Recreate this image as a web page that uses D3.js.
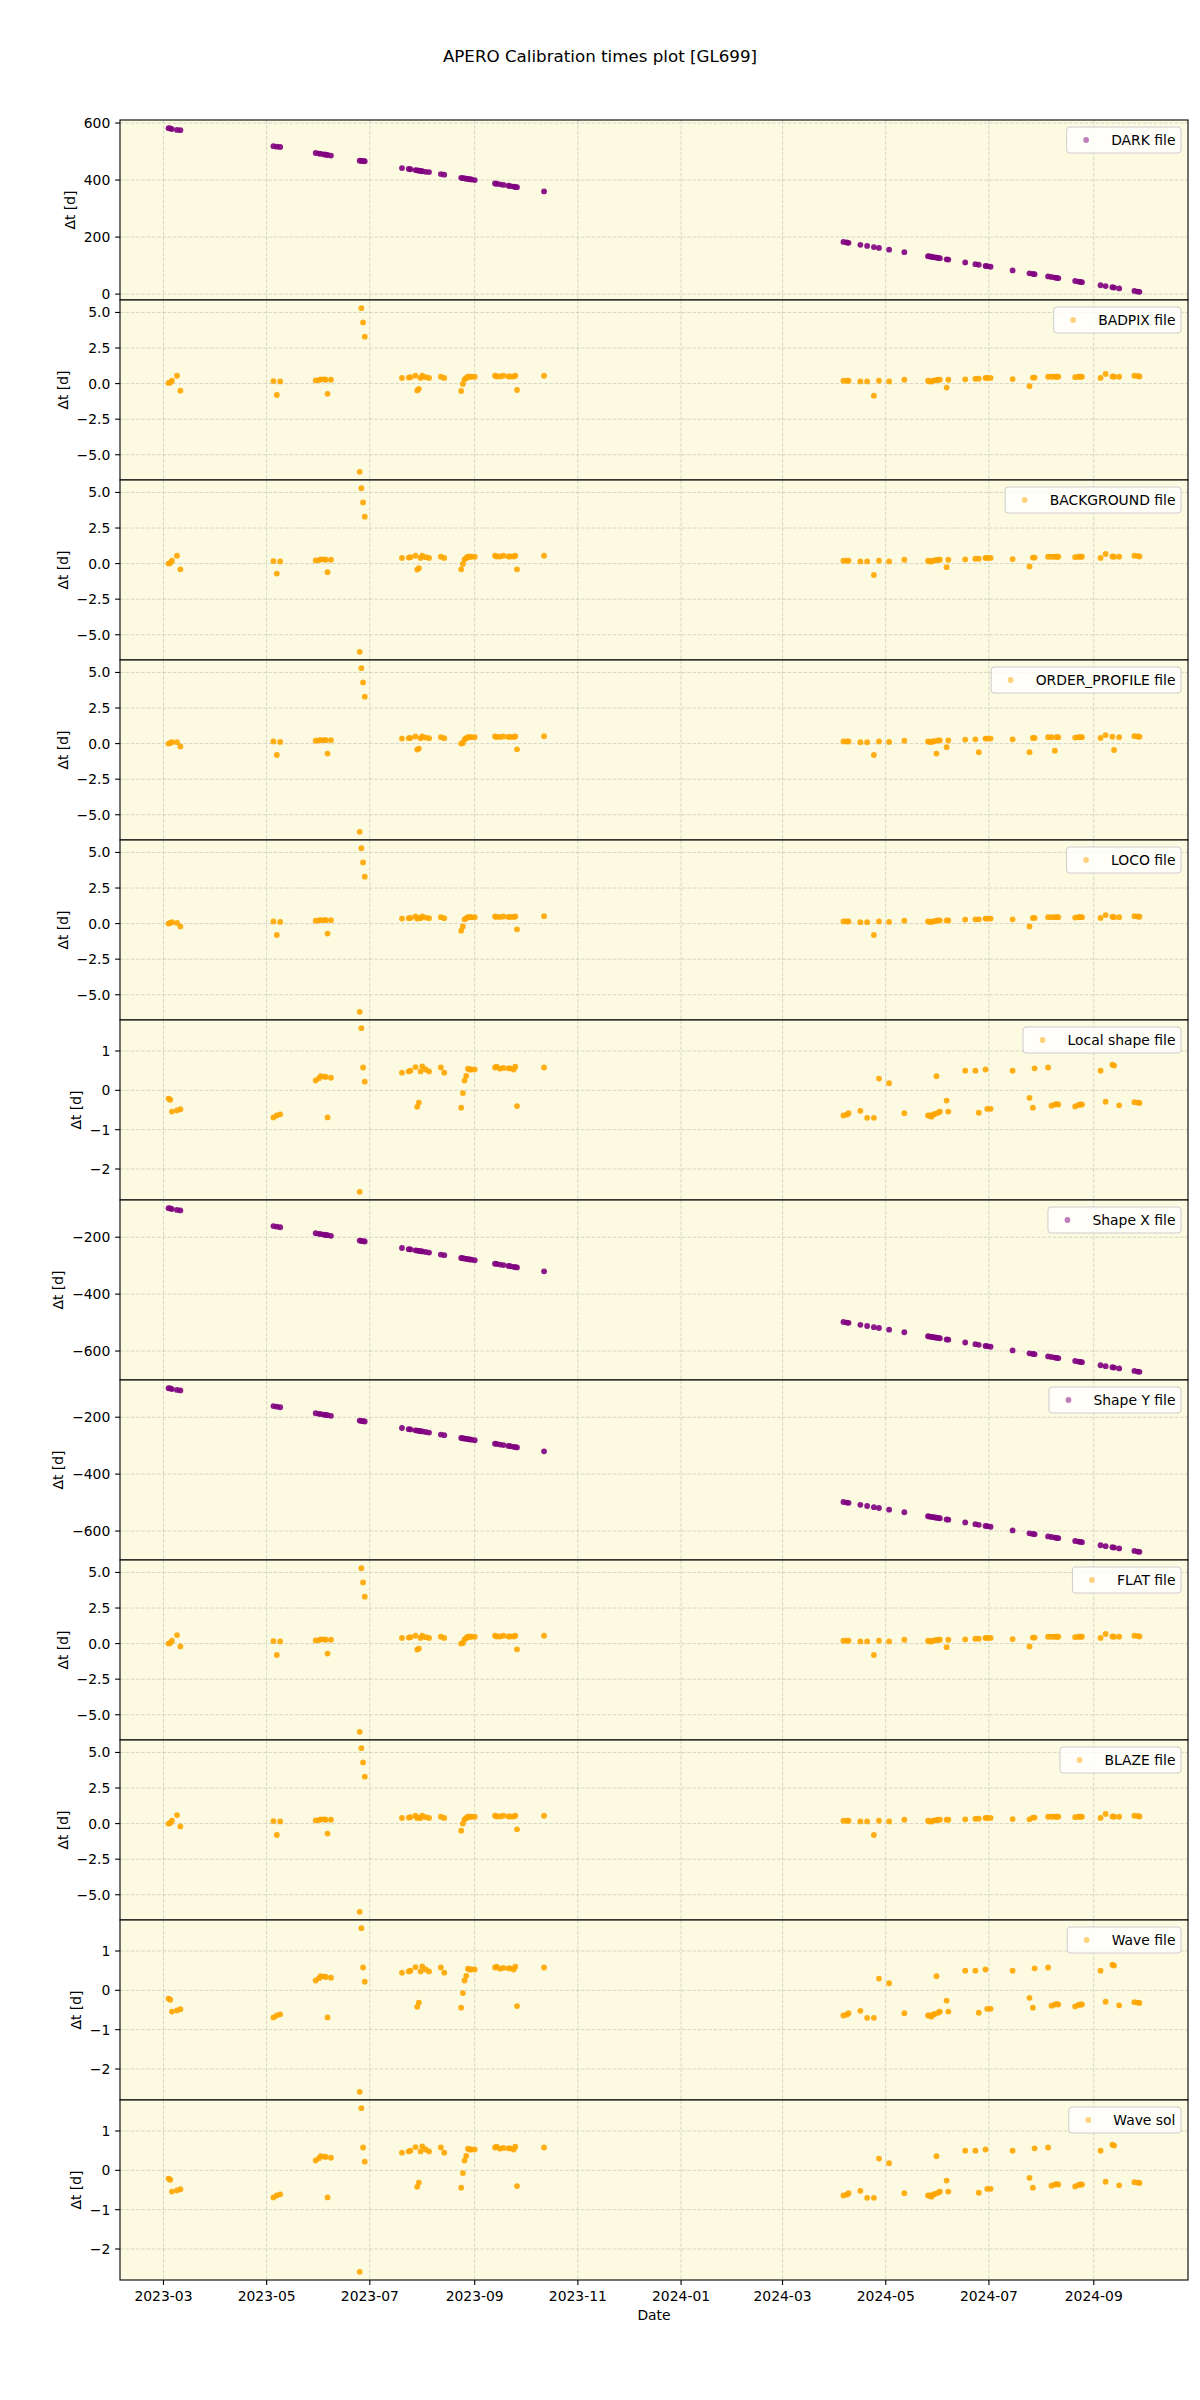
<!DOCTYPE html>
<html><head><meta charset="utf-8">
<script src="https://cdn.jsdelivr.net/npm/d3@7/dist/d3.min.js"></script>
<style>
body{margin:0;background:#fff}
svg text{font-family:"DejaVu Sans",sans-serif;fill:#000}
</style>
</head><body>
<svg id="chart" width="1200" height="2400"></svg>
<script>
// ---------------- DATA ----------------
const chartTitle = "APERO Calibration times plot [GL699]";
const xLabel = "Date";
const yLabel = "Δt [d]";

const obsDates = [
 "2023-03-04","2023-03-05","2023-03-06","2023-03-09","2023-03-11",
 "2023-05-05","2023-05-07","2023-05-09",
 "2023-05-30","2023-06-01","2023-06-02","2023-06-04","2023-06-05","2023-06-06","2023-06-08",
 "2023-06-25","2023-06-26","2023-06-27","2023-06-28",
 "2023-07-20","2023-07-24","2023-07-25","2023-07-28","2023-07-29","2023-07-30","2023-07-31","2023-08-01","2023-08-03","2023-08-05",
 "2023-08-12","2023-08-14",
 "2023-08-24","2023-08-25","2023-08-26","2023-08-27","2023-08-28","2023-08-29","2023-08-30","2023-09-01",
 "2023-09-13","2023-09-14","2023-09-16","2023-09-18","2023-09-21","2023-09-22","2023-09-24","2023-09-25","2023-09-26",
 "2023-10-12",
 "2024-04-06","2024-04-08","2024-04-09","2024-04-16","2024-04-20","2024-04-24","2024-04-27","2024-05-03","2024-05-12",
 "2024-05-26","2024-05-27","2024-05-28","2024-05-29","2024-05-30","2024-05-31","2024-06-01","2024-06-02","2024-06-06","2024-06-07",
 "2024-06-17","2024-06-23","2024-06-25","2024-06-29","2024-06-30","2024-07-02","2024-07-15",
 "2024-07-25","2024-07-27","2024-07-28","2024-08-05","2024-08-07","2024-08-09","2024-08-10","2024-08-11",
 "2024-08-21","2024-08-23","2024-08-24","2024-08-25","2024-09-05","2024-09-08","2024-09-12","2024-09-13","2024-09-16",
 "2024-09-25","2024-09-27","2024-09-28"
];

const darkValues = [
 582,581,579,576,575, 519,517,516, 495,493,492,490,489,488,486, 468,467,467,466,
 442,439,438,435,434,433,432,431,429,428, 421,419, 408,407,406,405,404,403,402,400,
 388,387,385,383,380,379,377,376,375, 360,
 183,181,180,173,169,165,162,156,147, 133,132,131,130,129,128,127,126,122,121,
 111,105,103,99,98,96,83, 73,71,70,62,60,58,57,56, 46,44,43,42,31,28,24,23,20, 11,9,8
];

const badpixValues = [
 0.05,0.08,0.2,0.55,-0.5, 0.18,-0.8,0.15, 0.22,0.25,0.3,0.3,0.27,-0.72,0.27, -6.2,5.3,4.3,3.3,
 0.4,0.42,0.45,0.55,-0.48,-0.37,0.4,0.55,0.45,0.4, 0.48,0.4, -0.52,-0.02,0.3,0.4,0.48,0.48,0.48,0.48,
 0.55,0.5,0.5,0.55,0.5,0.5,0.5,0.55,-0.45, 0.55,
 0.2,0.2,0.2,0.15,0.15,-0.85,0.2,0.15,0.27, 0.2,0.15,0.15,0.2,0.23,0.25,0.27,0.27,-0.28,0.27,
 0.3,0.34,0.34,0.4,0.4,0.4,0.32, -0.18,0.42,0.42,0.48,0.48,0.48,0.48,0.48, 0.45,0.48,0.48,0.48,0.4,0.68,0.5,0.48,0.48, 0.55,0.53,0.5
];

const backgroundValues = [
 0.0,0.05,0.2,0.55,-0.4, 0.18,-0.7,0.15, 0.22,0.25,0.3,0.3,0.27,-0.6,0.27, -6.2,5.3,4.3,3.3,
 0.4,0.42,0.45,0.55,-0.42,-0.32,0.4,0.55,0.45,0.4, 0.48,0.4, -0.4,-0.02,0.3,0.4,0.48,0.48,0.48,0.48,
 0.55,0.5,0.5,0.55,0.5,0.5,0.5,0.55,-0.4, 0.55,
 0.2,0.2,0.2,0.15,0.15,-0.8,0.2,0.15,0.27, 0.2,0.15,0.15,0.2,0.23,0.25,0.27,0.27,-0.25,0.27,
 0.3,0.34,0.34,0.4,0.4,0.4,0.32, -0.2,0.42,0.42,0.48,0.48,0.48,0.48,0.48, 0.45,0.48,0.48,0.48,0.4,0.68,0.5,0.48,0.48, 0.55,0.53,0.5
];

const orderProfileValues = [
 0.0,0.05,0.1,0.1,-0.2, 0.15,-0.8,0.12, 0.2,0.22,0.25,0.25,0.24,-0.7,0.24, -6.2,5.3,4.3,3.3,
 0.35,0.38,0.4,0.5,-0.42,-0.35,0.38,0.5,0.42,0.38, 0.45,0.38, 0.0,0.05,0.3,0.38,0.45,0.45,0.45,0.45,
 0.5,0.47,0.47,0.5,0.47,0.47,0.47,0.5,-0.4, 0.52,
 0.15,0.15,0.15,0.1,0.1,-0.8,0.15,0.12,0.2, 0.15,0.12,0.12,0.15,0.18,-0.7,0.22,0.22,-0.25,0.22,
 0.28,0.3,-0.6,0.35,0.35,0.35,0.3, -0.6,0.4,0.4,0.45,0.45,-0.5,0.45,0.45, 0.42,0.45,0.45,0.45,0.4,0.6,0.48,-0.45,0.45, 0.52,0.5,0.48
];

const locoValues = [
 0.0,0.05,0.1,0.05,-0.2, 0.15,-0.8,0.12, 0.2,0.22,0.25,0.25,0.24,-0.7,0.24, -6.2,5.3,4.3,3.3,
 0.35,0.38,0.4,0.5,0.35,0.38,0.38,0.5,0.42,0.38, 0.45,0.38, -0.5,-0.2,0.3,0.38,0.45,0.45,0.45,0.45,
 0.5,0.47,0.47,0.5,0.47,0.47,0.47,0.5,-0.4, 0.52,
 0.15,0.15,0.15,0.1,0.1,-0.8,0.15,0.12,0.2, 0.15,0.12,0.12,0.15,0.18,0.2,0.22,0.22,0.22,0.22,
 0.28,0.3,0.3,0.35,0.35,0.35,0.3, -0.2,0.4,0.4,0.45,0.45,0.45,0.45,0.45, 0.42,0.45,0.45,0.45,0.4,0.6,0.48,0.45,0.45, 0.52,0.5,0.48
];

const localShapeValues = [
 -0.21,-0.24,-0.54,-0.51,-0.48, -0.69,-0.64,-0.61, 0.25,0.31,0.36,0.35,0.34,-0.69,0.32, -2.58,1.58,0.58,0.22,
 0.45,0.48,0.5,0.59,-0.42,-0.31,0.48,0.61,0.53,0.48, 0.58,0.45, -0.44,-0.07,0.25,0.37,0.55,0.53,0.53,0.53,
 0.58,0.6,0.55,0.57,0.56,0.56,0.53,0.6,-0.4, 0.58,
 -0.64,-0.62,-0.58,-0.52,-0.7,-0.7,0.3,0.18,-0.58, -0.64,-0.64,-0.67,-0.62,-0.6,0.36,-0.57,-0.54,-0.26,-0.54,
 0.5,0.5,-0.57,0.53,-0.47,-0.47,0.5, -0.19,-0.44,0.56,0.58,-0.39,-0.36,-0.35,-0.36, -0.41,-0.37,-0.36,-0.36,0.5,-0.29,0.65,0.63,-0.38, -0.3,-0.31,-0.32
];

const shapeXValues = [
 -98,-99,-101,-104,-106, -161,-163,-165, -186,-188,-189,-191,-192,-193,-195, -212,-213,-214,-215,
 -238,-242,-243,-246,-247,-248,-249,-250,-252,-254, -261,-263, -273,-274,-275,-276,-277,-278,-279,-281,
 -293,-294,-296,-298,-301,-302,-304,-305,-306, -320,
 -498,-500,-501,-508,-512,-516,-519,-525,-534, -548,-549,-550,-551,-552,-553,-554,-555,-559,-560,
 -570,-576,-578,-582,-583,-585,-598, -608,-610,-611,-619,-621,-623,-624,-625, -635,-637,-638,-639,-650,-653,-657,-658,-661, -670,-672,-673
];
const shapeYValues = shapeXValues.slice();

const flatValues = [
 0.0,0.05,0.2,0.6,-0.2, 0.18,-0.8,0.15, 0.22,0.25,0.3,0.3,0.27,-0.7,0.27, -6.2,5.3,4.3,3.3,
 0.4,0.42,0.45,0.55,-0.42,-0.35,0.4,0.55,0.45,0.4, 0.48,0.4, 0.0,0.05,0.3,0.4,0.48,0.48,0.48,0.48,
 0.55,0.5,0.5,0.55,0.5,0.5,0.5,0.55,-0.4, 0.55,
 0.2,0.2,0.2,0.15,0.15,-0.8,0.2,0.15,0.27, 0.2,0.15,0.15,0.2,0.23,0.25,0.27,0.27,-0.25,0.27,
 0.3,0.34,0.34,0.4,0.4,0.4,0.32, -0.2,0.42,0.42,0.48,0.48,0.48,0.48,0.48, 0.45,0.48,0.48,0.48,0.4,0.68,0.5,0.48,0.48, 0.55,0.53,0.5
];

const blazeValues = [
 0.0,0.05,0.2,0.6,-0.2, 0.18,-0.8,0.15, 0.22,0.25,0.3,0.3,0.27,-0.7,0.27, -6.2,5.3,4.3,3.3,
 0.4,0.42,0.45,0.55,0.4,0.42,0.4,0.55,0.45,0.4, 0.48,0.4, -0.5,0.0,0.3,0.4,0.48,0.48,0.48,0.48,
 0.55,0.5,0.5,0.55,0.5,0.5,0.5,0.55,-0.4, 0.55,
 0.2,0.2,0.2,0.15,0.15,-0.8,0.2,0.15,0.27, 0.2,0.15,0.15,0.2,0.23,0.25,0.27,0.27,0.27,0.27,
 0.3,0.34,0.34,0.4,0.4,0.4,0.32, 0.3,0.42,0.42,0.48,0.48,0.48,0.48,0.48, 0.45,0.48,0.48,0.48,0.4,0.68,0.5,0.48,0.48, 0.55,0.53,0.5
];

const waveValues = localShapeValues.slice();
const waveSolValues = localShapeValues.slice();

const seriesLabels = ["DARK file","BADPIX file","BACKGROUND file","ORDER_PROFILE file","LOCO file","Local shape file",
  "Shape X file","Shape Y file","FLAT file","BLAZE file","Wave file","Wave sol"];
const seriesValues = [darkValues,badpixValues,backgroundValues,orderProfileValues,locoValues,localShapeValues,
  shapeXValues,shapeYValues,flatValues,blazeValues,waveValues,waveSolValues];

const ticksDark = [0,200,400,600];
const ticksFiveDays = [-5.0,-2.5,0.0,2.5,5.0];
const ticksOneDay = [-2,-1,0,1];
const ticksShape = [-600,-400,-200];
const seriesTicks = [ticksDark,ticksFiveDays,ticksFiveDays,ticksFiveDays,ticksFiveDays,ticksOneDay,
  ticksShape,ticksShape,ticksFiveDays,ticksFiveDays,ticksOneDay,ticksOneDay];

const xTickLabels = ["2023-03","2023-05","2023-07","2023-09","2023-11","2024-01","2024-03","2024-05","2024-07","2024-09"];

// ---------------- STYLE / LAYOUT ----------------
(function(){
const PURPLE = "#800080", ORANGE = "#ffa500";
const seriesColor = i => (i===0||i===6||i===7) ? PURPLE : ORANGE;
const W = 1200, plotL = 120, plotR = 1188, plotT = 120, panelH = 180;
const fs = 13.9;
const bg = "#fcfbe1";

const svg = d3.select("#chart");
svg.append("rect").attr("width",W).attr("height",2400).attr("fill","#fff");

const parse = d3.utcParse("%Y-%m-%d");
const dates = obsDates.map(parse);
const parseM = d3.utcParse("%Y-%m");
const xTicks = xTickLabels.map(parseM);

const [dmin, dmax] = d3.extent(dates);
const span = dmax - dmin;
const x = d3.scaleUtc()
  .domain([new Date(+dmin - 0.05*span), new Date(+dmax + 0.05*span)])
  .range([plotL, plotR]);

const fmtTick = (ticks) => {
  const dec = ticks.some(t => Math.abs(t) === 2.5);
  return v => (dec ? v.toFixed(1) : String(v)).replace("-", "\u2212");
};

const defs = svg.append("defs");

seriesValues.forEach((vals, i) => {
  const y0 = plotT + i*panelH, y1 = y0 + panelH;
  const [vmin, vmax] = d3.extent(vals);
  const pad = 0.05*(vmax - vmin);
  const y = d3.scaleLinear().domain([vmin - pad, vmax + pad]).range([y1, y0]);
  const g = svg.append("g");

  defs.append("clipPath").attr("id","clip"+i)
    .append("rect").attr("x",plotL).attr("y",y0).attr("width",plotR-plotL).attr("height",panelH);

  g.append("rect").attr("x",plotL).attr("y",y0).attr("width",plotR-plotL).attr("height",panelH).attr("fill",bg);

  const grid = g.append("g").attr("clip-path","url(#clip"+i+")")
    .attr("stroke","#b0b0b0").attr("stroke-opacity",0.55).attr("stroke-width",0.9).attr("stroke-dasharray","3.7,1.6");
  xTicks.forEach(t => grid.append("line").attr("x1",x(t)).attr("x2",x(t)).attr("y1",y0).attr("y2",y1));
  seriesTicks[i].forEach(t => grid.append("line").attr("x1",plotL).attr("x2",plotR).attr("y1",y(t)).attr("y2",y(t)));

  const col = seriesColor(i);
  g.append("g").attr("clip-path","url(#clip"+i+")")
    .selectAll("circle").data(vals.map((v,k)=>({d:dates[k], v})))
    .join("circle")
    .attr("cx", d => x(d.d)).attr("cy", d => y(d.v)).attr("r", 2.9)
    .attr("fill", col).attr("fill-opacity", 0.9);

  g.append("rect").attr("x",plotL).attr("y",y0).attr("width",plotR-plotL).attr("height",panelH)
    .attr("fill","none").attr("stroke","#000").attr("stroke-width",1.1);

  const f = fmtTick(seriesTicks[i]);
  let minLeft = Infinity;
  seriesTicks[i].forEach(t => {
    const yy = y(t);
    g.append("line").attr("x1",plotL-4.9).attr("x2",plotL).attr("y1",yy).attr("y2",yy).attr("stroke","#000").attr("stroke-width",1.1);
    const tx = g.append("text").attr("x",plotL-9.7).attr("y",yy).attr("dy","0.36em")
      .attr("text-anchor","end").attr("font-size",fs).text(f(t));
    const bb = tx.node().getBBox();
    minLeft = Math.min(minLeft, bb.x);
  });
  g.append("text").attr("transform",`translate(${minLeft-5.6-3.3},${(y0+y1)/2}) rotate(-90)`)
    .attr("text-anchor","middle").attr("font-size",fs).text(yLabel);

  const lg = g.append("g");
  const lt = lg.append("text").attr("font-size",fs).text(seriesLabels[i]);
  const tw = lt.node().getComputedTextLength();
  const bp = 0.4*fs, hl = 2.0*fs, htp = 0.8*fs;
  const bw = tw + 2*bp + hl + htp, bh = 26;
  const bx = plotR - 7 - bw, by = y0 + 7;
  lg.insert("rect","text").attr("x",bx).attr("y",by).attr("width",bw).attr("height",bh).attr("rx",3)
    .attr("fill","#fff").attr("fill-opacity",0.8).attr("stroke","#cccccc").attr("stroke-width",1);
  lg.append("circle").attr("cx",bx+bp+hl/2).attr("cy",by+bh/2).attr("r",2.9).attr("fill",col).attr("fill-opacity",0.5);
  lt.attr("x",bx+bp+hl+htp).attr("y",by+bh/2).attr("dy","0.36em");
});

const yb = plotT + seriesValues.length*panelH;
xTicks.forEach((t,k) => {
  svg.append("line").attr("x1",x(t)).attr("x2",x(t)).attr("y1",yb).attr("y2",yb+4.9).attr("stroke","#000").attr("stroke-width",1.1);
  svg.append("text").attr("x",x(t)).attr("y",yb+21).attr("text-anchor","middle").attr("font-size",fs).text(xTickLabels[k]);
});
svg.append("text").attr("x",(plotL+plotR)/2).attr("y",yb+40).attr("text-anchor","middle").attr("font-size",fs).text(xLabel);

svg.append("text").attr("x",W/2).attr("y",62).attr("text-anchor","middle").attr("font-size",16.7).text(chartTitle);
})();
</script>
</body></html>
